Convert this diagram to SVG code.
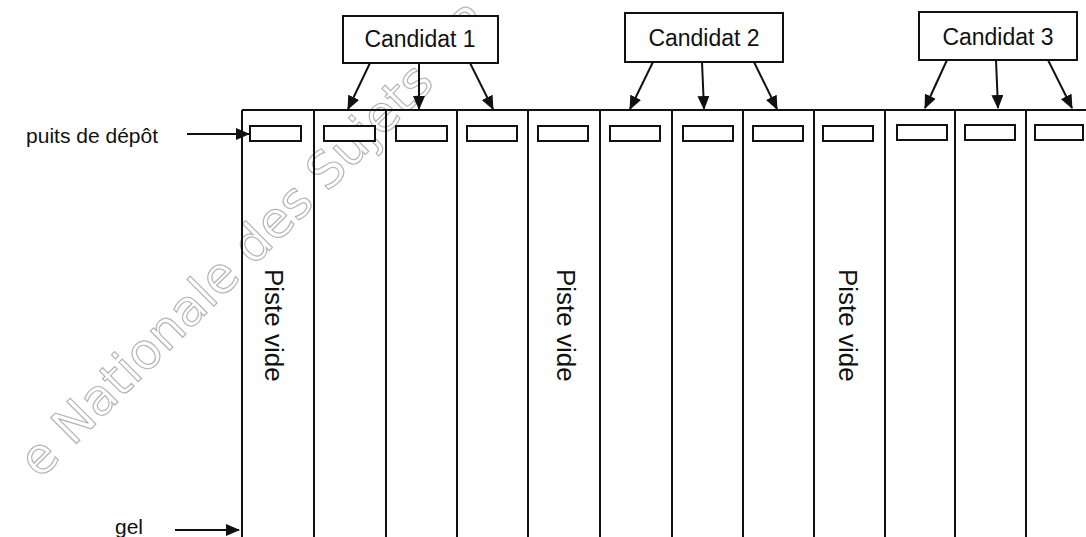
<svg xmlns="http://www.w3.org/2000/svg" width="1086" height="537" viewBox="0 0 1086 537">
<style>
.ln{stroke:#111;stroke-width:2;fill:none}
.box{fill:#fff;stroke:#111;stroke-width:2}
.well{fill:#fff;stroke:#111;stroke-width:2}
.t{font-family:"Liberation Sans",Arial,sans-serif;fill:#111}
.wm{font-family:"DejaVu Sans",sans-serif;font-size:50px;fill:none;stroke:#b4b4b4;stroke-width:1.2}
</style>
<defs>
<marker id="ah" markerUnits="userSpaceOnUse" markerWidth="14" markerHeight="12" refX="13" refY="6" orient="auto">
<path d="M0,0 L14,6 L0,12 Z" fill="#111"/>
</marker>
</defs>
<rect width="1086" height="537" fill="#fff"/>
<g id="watermark">
<text class="wm" transform="translate(40,480) rotate(-45)">e Nationale des Sujets - R</text>
</g>
<g id="gel">
<line class="ln" x1="242" y1="110" x2="1086" y2="110"/>
<line class="ln" x1="242" y1="110" x2="242" y2="537"/>
<line class="ln" x1="314" y1="110" x2="314" y2="537"/>
<line class="ln" x1="386" y1="110" x2="386" y2="537"/>
<line class="ln" x1="457" y1="110" x2="457" y2="537"/>
<line class="ln" x1="528" y1="110" x2="528" y2="537"/>
<line class="ln" x1="600" y1="110" x2="600" y2="537"/>
<line class="ln" x1="672" y1="110" x2="672" y2="537"/>
<line class="ln" x1="743" y1="110" x2="743" y2="537"/>
<line class="ln" x1="814" y1="110" x2="814" y2="537"/>
<line class="ln" x1="885" y1="110" x2="885" y2="537"/>
<line class="ln" x1="955" y1="110" x2="955" y2="537"/>
<line class="ln" x1="1026" y1="110" x2="1026" y2="537"/>
</g>
<g id="wells">
<rect class="well" x="250" y="126" width="51" height="15"/>
<rect class="well" x="324" y="126" width="51" height="15"/>
<rect class="well" x="396" y="126" width="51" height="15"/>
<rect class="well" x="467" y="126" width="50" height="15"/>
<rect class="well" x="538" y="126" width="50" height="15"/>
<rect class="well" x="610" y="126" width="50" height="15"/>
<rect class="well" x="683" y="126" width="50" height="15"/>
<rect class="well" x="753" y="126" width="50" height="15"/>
<rect class="well" x="823" y="126" width="50" height="15"/>
<rect class="well" x="897" y="125" width="50" height="15"/>
<rect class="well" x="965" y="125" width="50" height="15"/>
<rect class="well" x="1035" y="125" width="48" height="15"/>
</g>
<g id="lane1-label"><text class="t" font-size="26" transform="translate(265,269) rotate(90)">Piste vide</text></g>
<g id="lane5-label"><text class="t" font-size="26" transform="translate(557,269) rotate(90)">Piste vide</text></g>
<g id="lane9-label"><text class="t" font-size="26" transform="translate(839,269) rotate(90)">Piste vide</text></g>
<g id="candidat1">
<rect class="box" x="343" y="16" width="155" height="47"/>
<text class="t" font-size="23" x="420" y="47" text-anchor="middle">Candidat 1</text>
</g>
<g id="candidat2">
<rect class="box" x="625" y="13" width="158" height="49"/>
<text class="t" font-size="23" x="704" y="46" text-anchor="middle">Candidat 2</text>
</g>
<g id="candidat3">
<rect class="box" x="919" y="12" width="158" height="48"/>
<text class="t" font-size="23" x="998" y="45" text-anchor="middle">Candidat 3</text>
</g>
<g id="label-puits"><text class="t" font-size="21" x="158" y="143" text-anchor="end">puits de dépôt</text></g>
<g id="label-gel"><text class="t" font-size="21" x="143" y="534" text-anchor="end">gel</text></g>
<g id="connectors">
<line class="ln" x1="370" y1="63" x2="348" y2="109" marker-end="url(#ah)"/>
<line class="ln" x1="419" y1="63" x2="419" y2="109" marker-end="url(#ah)"/>
<line class="ln" x1="470" y1="63" x2="493" y2="109" marker-end="url(#ah)"/>
<line class="ln" x1="653" y1="62" x2="630" y2="109" marker-end="url(#ah)"/>
<line class="ln" x1="702" y1="62" x2="704" y2="109" marker-end="url(#ah)"/>
<line class="ln" x1="754" y1="62" x2="777" y2="109" marker-end="url(#ah)"/>
<line class="ln" x1="947" y1="60" x2="925" y2="108" marker-end="url(#ah)"/>
<line class="ln" x1="996" y1="60" x2="998" y2="108" marker-end="url(#ah)"/>
<line class="ln" x1="1048" y1="60" x2="1072" y2="108" marker-end="url(#ah)"/>
<line class="ln" x1="187" y1="134" x2="249" y2="134" marker-end="url(#ah)"/>
<line class="ln" x1="175" y1="530" x2="239" y2="530" marker-end="url(#ah)"/>
</g>
</svg>
